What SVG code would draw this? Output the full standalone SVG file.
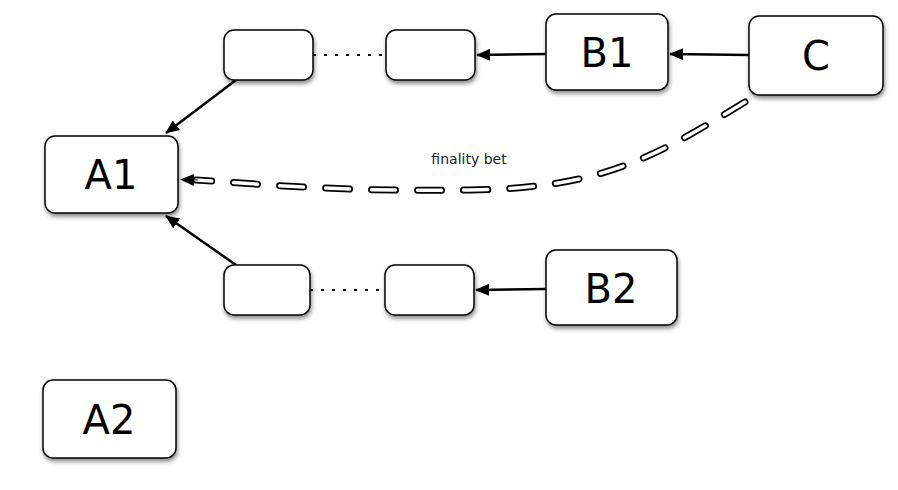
<svg xmlns="http://www.w3.org/2000/svg" width="898" height="490" viewBox="0 0 898 490">
<style>
.b{fill:#fff;stroke:#000;stroke-width:1.5;filter:url(#sh)}
.t{font-family:"DejaVu Sans",sans-serif;font-size:40px;text-anchor:middle;fill:#000}
.a{stroke:#000;stroke-width:2.5;fill:none;marker-end:url(#ar)}
.d{stroke:#000;stroke-width:2;fill:none;stroke-dasharray:3 8}
</style>
<defs>
<filter id="sh" x="-20%" y="-20%" width="140%" height="150%"><feDropShadow dx="1" dy="3" stdDeviation="2" flood-opacity="0.45"/></filter>
<marker id="ar" markerWidth="14" markerHeight="12" refX="13" refY="6" orient="auto" markerUnits="userSpaceOnUse"><path d="M0,0 L14,6 L0,12 Z" fill="#000"/></marker>
<marker id="ar2" markerWidth="14" markerHeight="12" refX="13" refY="6" orient="auto" markerUnits="userSpaceOnUse"><path d="M0,0 L14,6 L0,12 Z" fill="#000"/></marker>
</defs>
<g id="connectors">
<line class="d" x1="313" y1="55" x2="386" y2="55"/>
<line class="d" x1="310" y1="290" x2="385" y2="290"/>
<line class="a" x1="546" y1="54" x2="477" y2="55"/>
<line class="a" x1="749" y1="55" x2="670" y2="54"/>
<line class="a" x1="546" y1="289" x2="476" y2="290"/>
<line class="a" x1="236" y1="80" x2="166" y2="133"/>
<line class="a" x1="236" y1="265" x2="166" y2="216"/>
<path d="M745,102 C650,160 600,188 470,190 S260,184 196,180" stroke="#000" stroke-width="7" fill="none" stroke-dasharray="24 22" stroke-linecap="round"/>
<path d="M745,102 C650,160 600,188 470,190 S260,184 196,180" stroke="#fff" stroke-width="3.5" fill="none" stroke-dasharray="24 22" stroke-linecap="round"/>
<line x1="198" y1="180" x2="181" y2="179.5" stroke="#000" stroke-width="1" marker-end="url(#ar2)"/>
<text x="469" y="164" font-family="DejaVu Sans,sans-serif" font-size="14" text-anchor="middle" fill="#222">finality bet</text>
</g>
<g id="n1"><rect class="b" x="224" y="30" width="89" height="50" rx="10"/></g>
<g id="n2"><rect class="b" x="386" y="30" width="89" height="50" rx="10"/></g>
<g id="B1"><rect class="b" x="546" y="14" width="122" height="76" rx="10"/><text class="t" x="607" y="67">B1</text></g>
<g id="C"><rect class="b" x="749" y="16" width="134" height="79" rx="10"/><text class="t" x="816" y="70">C</text></g>
<g id="A1"><rect class="b" x="45" y="136" width="133" height="77" rx="10"/><text class="t" x="111" y="189">A1</text></g>
<g id="n3"><rect class="b" x="224" y="265" width="86" height="50" rx="10"/></g>
<g id="n4"><rect class="b" x="385" y="265" width="89" height="50" rx="10"/></g>
<g id="B2"><rect class="b" x="546" y="250" width="131" height="75" rx="10"/><text class="t" x="611" y="303">B2</text></g>
<g id="A2"><rect class="b" x="43" y="380" width="133" height="78" rx="10"/><text class="t" x="109" y="434">A2</text></g>
</svg>
